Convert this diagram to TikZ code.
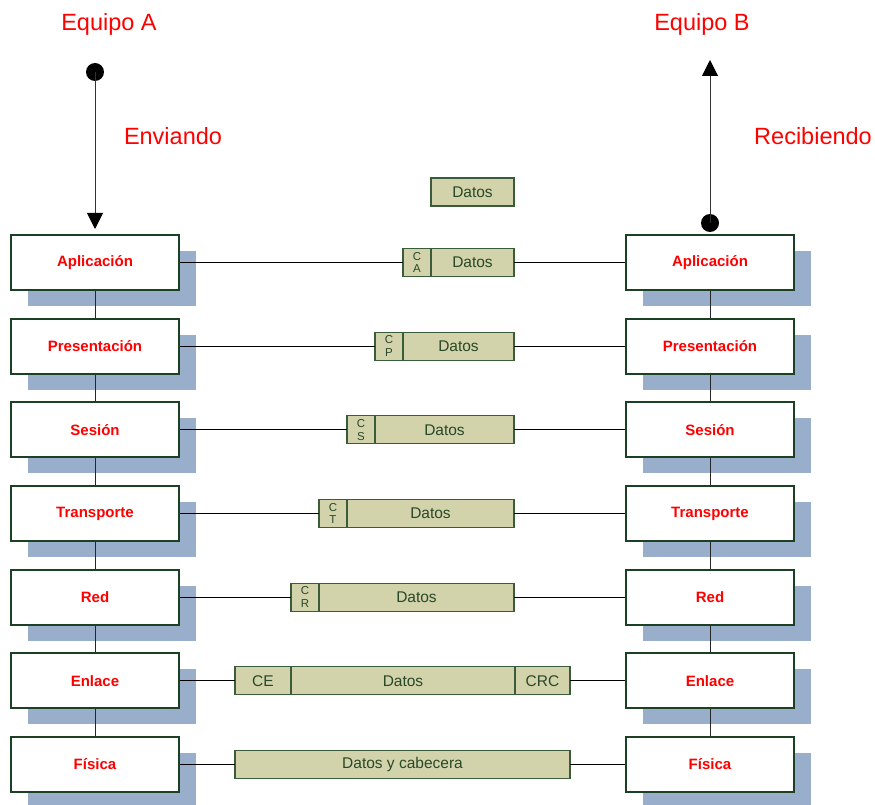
\documentclass[tikz,border=0pt]{standalone}
\usepackage{fontspec}
\setmainfont{Liberation Sans}
\usetikzlibrary{arrows.meta,shadows}

\definecolor{boxgreen}{RGB}{28,64,36}
\definecolor{shadowblue}{RGB}{152,174,203}
\definecolor{pktfill}{RGB}{211,211,171}
\definecolor{pktline}{RGB}{58,92,58}
\definecolor{pkttext}{RGB}{40,72,40}
\definecolor{labelred}{RGB}{255,0,0}

\tikzset{
  layer/.style={draw=boxgreen, line width=2pt, fill=white,
    minimum width=168pt, minimum height=55pt, inner sep=0pt,
    font=\fontsize{15}{15}\selectfont\bfseries, text=labelred,
    general shadow={fill=shadowblue, shadow xshift=17pt, shadow yshift=-16pt}},
  pkt/.style={draw=pktline, line width=1.2pt, fill=pktfill,
    minimum height=28pt, inner sep=0pt, outer sep=0pt, text=pkttext,
    font=\fontsize{15.5}{15.5}\selectfont, anchor=west},
  hdr/.style={pkt, minimum width=28pt, font=\fontsize{11.5}{12.5}\selectfont, align=center},
  link/.style={line width=0.9pt, black},
  stack/.style={line width=1pt, black!85},
  title/.style={text=labelred, font=\fontsize{23.5}{24}\selectfont},
  dot/.style={circle, fill=black, minimum size=18pt, inner sep=0pt},
  flow/.style={line width=1pt, black!80,
    -{Triangle[width=16pt,length=16pt,color=black,fill=black]}},
}

\begin{document}
\begin{tikzpicture}[x=1pt,y=-1pt]
  \useasboundingbox (0,0) rectangle (875,805);

  % titles
  \node[title] (eqA) at (109,24) {Equipo A};
  \node[title] (env) at (173,136) {Enviando};
  \node[title] (eqB) at (702,24) {Equipo B};
  \node[title] (rec) at (813,136) {Recibiendo};

  % sending stack
  \node[layer] (L1) at (95,262.5) {Aplicación};
  \node[layer] (L2) at (95,346.2) {Presentación};
  \node[layer] (L3) at (95,429.8) {Sesión};
  \node[layer] (L4) at (95,513.5) {Transporte};
  \node[layer] (L5) at (95,597.2) {Red};
  \node[layer] (L6) at (95,680.8) {Enlace};
  \node[layer] (L7) at (95,764.5) {Física};

  % receiving stack
  \node[layer] (R1) at (710,262.5) {Aplicación};
  \node[layer] (R2) at (710,346.2) {Presentación};
  \node[layer] (R3) at (710,429.8) {Sesión};
  \node[layer] (R4) at (710,513.5) {Transporte};
  \node[layer] (R5) at (710,597.2) {Red};
  \node[layer] (R6) at (710,680.8) {Enlace};
  \node[layer] (R7) at (710,764.5) {Física};

  % vertical links inside each stack
  \foreach \a/\b in {1/2,2/3,3/4,4/5,5/6,6/7}{
    \draw[stack] (L\a.south) -- (L\b.north);
    \draw[stack] (R\a.south) -- (R\b.north);
  }

  % user data
  \node[pkt, minimum width=83pt] (d0) at (431,192) {Datos};

  % encapsulated units
  \node[hdr] (h1) at (403,262.5) {C\\A};
  \node[pkt, minimum width=83pt] (d1) at (h1.east) {Datos};
  \node[hdr] (h2) at (375,346.2) {C\\P};
  \node[pkt, minimum width=111pt] (d2) at (h2.east) {Datos};
  \node[hdr] (h3) at (347,429.8) {C\\S};
  \node[pkt, minimum width=139pt] (d3) at (h3.east) {Datos};
  \node[hdr] (h4) at (319,513.5) {C\\T};
  \node[pkt, minimum width=167pt] (d4) at (h4.east) {Datos};
  \node[hdr] (h5) at (291,597.2) {C\\R};
  \node[pkt, minimum width=195pt] (d5) at (h5.east) {Datos};
  \node[pkt, minimum width=56pt] (h6) at (235,680.8) {CE};
  \node[pkt, minimum width=224pt] (d6) at (h6.east) {Datos};
  \node[pkt, minimum width=55pt] (t6) at (d6.east) {CRC};
  \node[pkt, minimum width=335pt] (h7) at (235,764.5) {Datos y cabecera};

  % peer connections
  \foreach \i in {1,...,5}{
    \draw[link] (L\i.east) -- (h\i.west);
    \draw[link] (d\i.east) -- (R\i.west);
  }
  \draw[link] (L6.east) -- (h6.west);
  \draw[link] (t6.east) -- (R6.west);
  \draw[link] (L7.east) -- (h7.west);
  \draw[link] (h7.east) -- (R7.west);

  % direction of flow
  \node[dot] (dotA) at (95,72) {};
  \draw[flow, shorten >=5pt] (dotA.center) -- (L1.north);
  \node[dot] (dotB) at (710,223) {};
  \coordinate (outB) at (710,60);
  \draw[flow] (dotB.center) -- (outB);
\end{tikzpicture}
\end{document}
